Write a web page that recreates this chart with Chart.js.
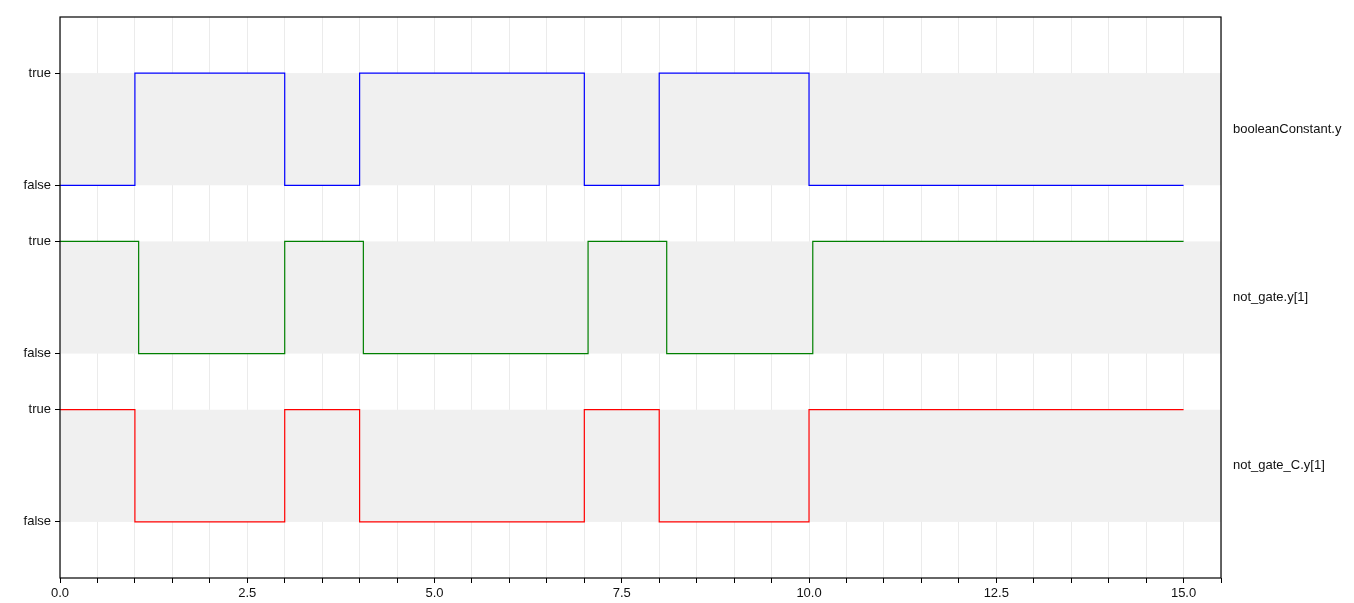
<!DOCTYPE html>
<html>
<head>
<meta charset="utf-8">
<script src="https://cdn.jsdelivr.net/npm/chart.js@4"></script>
<style>
  body { margin: 0; background: #fff; }
  #wrap { width: 1354px; height: 603px; }
</style>
</head>
<body>
<div id="wrap"><canvas id="signalChart"></canvas></div>
<script>
// signal names, shown on the right of each lane
const signalNames = ['booleanConstant.y', 'not_gate.y[1]', 'not_gate_C.y[1]'];
const signalColors = ['#0000ff', '#008000', '#ff0000'];

// switching times and states
const constTimes = [0, 1, 3, 4, 7, 8, 10, 15];
const constStates = [false, true, false, true, false, true, false, false];
const notGateTimes = [0, 1.05, 3.0, 4.05, 7.05, 8.1, 10.05, 15];
const notGateStates = [true, false, true, false, true, false, true, true];
const notGateCTimes = [0, 1, 3, 4, 7, 8, 10, 15];
const notGateCStates = [true, false, true, false, true, false, true, true];

const xTickLabels = ['0.0', '2.5', '5.0', '7.5', '10.0', '12.5', '15.0'];
const yTickLabels = ['false', 'true'];

// each lane sits on its own band of the y scale
const laneBase = [3, 1.5, 0];

const allTimes = [constTimes, notGateTimes, notGateCTimes];
const allStates = [constStates, notGateStates, notGateCStates];

const datasets = signalNames.map((name, i) => ({
    label: name,
    data: allTimes[i].map((t, j) => ({ x: t, y: laneBase[i] + (allStates[i][j] ? 1 : 0) })),
    borderColor: signalColors[i],
    borderWidth: 1.2,
    pointRadius: 0,
    stepped: true,
    fill: false
}));

const yTickValues = [];
laneBase.forEach(b => { yTickValues.push(b, b + 1); });

const font = { family: 'Liberation Sans, Arial, sans-serif', size: 13 };

// grey band behind every lane, and the frame round the plot
const lanesPlugin = {
    id: 'lanes',
    beforeDatasetsDraw(chart) {
        const { ctx, chartArea, scales } = chart;
        ctx.save();
        ctx.fillStyle = '#f0f0f0';
        laneBase.forEach(b => {
            const top = scales.y.getPixelForValue(b + 1);
            const bottom = scales.y.getPixelForValue(b);
            ctx.fillRect(chartArea.left, top, chartArea.right - chartArea.left, bottom - top);
        });
        ctx.restore();
    },
    afterDraw(chart) {
        const { ctx, chartArea } = chart;
        ctx.save();
        ctx.strokeStyle = '#000';
        ctx.lineWidth = 1.2;
        ctx.strokeRect(chartArea.left, chartArea.top, chartArea.right - chartArea.left, chartArea.bottom - chartArea.top);
        ctx.restore();
    }
};

const fitVertical = w => s => {
    s.width = w;
    s.paddingTop = 0;
    s.paddingBottom = 0;
};

const ctx = document.getElementById('signalChart').getContext('2d');

const signalChart = new Chart(ctx, {
    type: 'line',
    data: { datasets: datasets },
    options: {
        responsive: true,
        maintainAspectRatio: false,
        animation: false,
        layout: { padding: { top: 17, left: 0, right: 0, bottom: 0 } },
        plugins: {
            legend: { display: false },
            tooltip: { enabled: false }
        },
        scales: {
            x: {
                type: 'linear',
                min: 0,
                max: 15.5,
                afterFit: s => { s.height = 25; },
                grid: { color: '#ebebeb', tickColor: '#000', tickLength: 5, lineWidth: 1 },
                border: { display: false },
                ticks: {
                    stepSize: 0.5,
                    autoSkip: false,
                    maxRotation: 0,
                    padding: 3,
                    color: '#111',
                    font: font,
                    callback: v => {
                        const k = v / 2.5;
                        return Number.isInteger(k) && xTickLabels[k] ? xTickLabels[k] : '';
                    }
                }
            },
            y: {
                type: 'linear',
                min: -0.5,
                max: 4.5,
                afterFit: fitVertical(60),
                afterBuildTicks: s => { s.ticks = yTickValues.map(v => ({ value: v })); },
                grid: { drawOnChartArea: false, tickColor: '#000', tickLength: 5 },
                border: { display: false },
                ticks: {
                    padding: 4,
                    color: '#111',
                    font: font,
                    callback: v => yTickLabels[yTickValues.indexOf(v) % 2]
                }
            },
            y2: {
                type: 'linear',
                position: 'right',
                min: -0.5,
                max: 4.5,
                afterFit: fitVertical(133),
                afterBuildTicks: s => { s.ticks = laneBase.map(b => ({ value: b + 0.5 })); },
                grid: { display: false, drawTicks: false },
                border: { display: false },
                ticks: {
                    padding: 12,
                    color: '#111',
                    font: font,
                    callback: v => signalNames[laneBase.indexOf(v - 0.5)]
                }
            }
        }
    },
    plugins: [lanesPlugin]
});
</script>
</body>
</html>
